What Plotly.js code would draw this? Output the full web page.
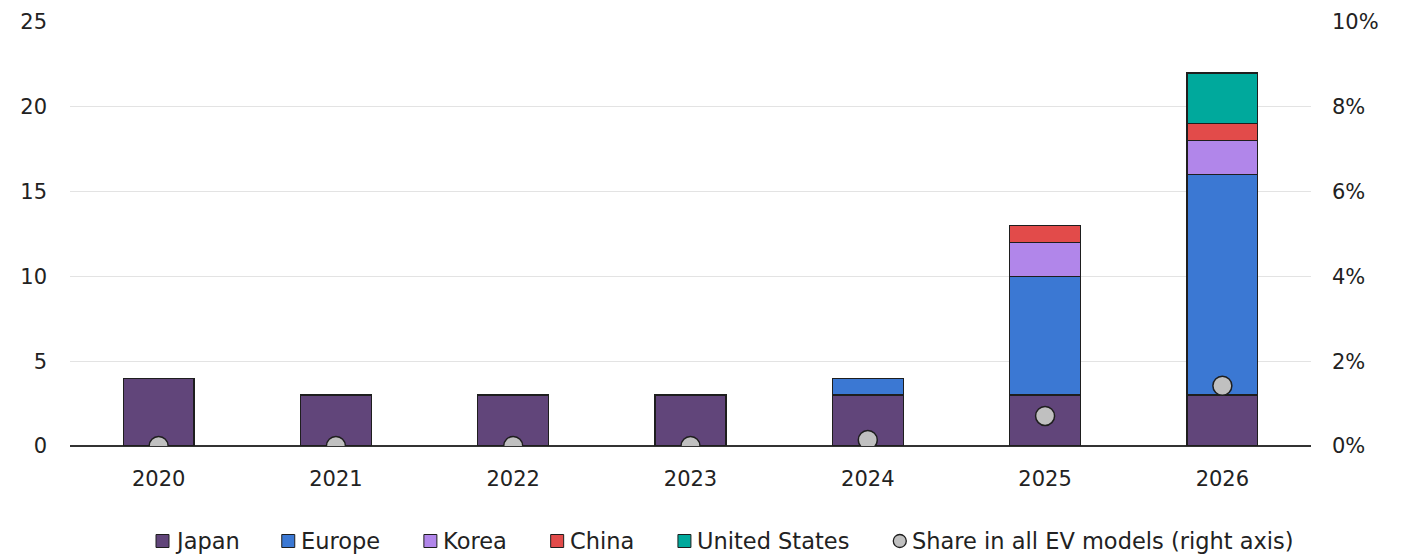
<!DOCTYPE html>
<html>
<head>
<meta charset="utf-8">
<script src="https://cdn.plot.ly/plotly-3.0.1.min.js"></script>
<style>html,body{margin:0;padding:0;background:#fff;}#chart{width:1411px;height:554px;}</style>
</head>
<body>
<div id="chart"></div>
<script>
const years = ['2020','2021','2022','2023','2024','2025','2026'];
const japan = [4, 3, 3, 3, 3, 3, 3];
const europe = [0, 0, 0, 0, 1, 7, 13];
const korea = [0, 0, 0, 0, 0, 2, 2];
const china = [0, 0, 0, 0, 0, 1, 1];
const unitedStates = [0, 0, 0, 0, 0, 0, 3];
const share = [0, 0, 0, 0, 0.0014, 0.0071, 0.0142];
const seriesNames = ['Japan', 'Europe', 'Korea', 'China', 'United States', 'Share in all EV models (right axis)'];

const colors = ['#61457a', '#3b78d3', '#b186ea', '#e24b4a', '#00a99c', '#c0c0c0'];
const edge = '#1e1e1e';
const barSeries = [japan, europe, korea, china, unitedStates];

const traces = barSeries.map((vals, i) => ({
  type: 'bar', name: seriesNames[i], x: years, y: vals, width: 0.4,
  marker: {color: colors[i], line: {color: edge, width: 1.3}}
}));
traces.push({type: 'scatter', mode: 'markers', name: seriesNames[5],
  x: years, y: share, yaxis: 'y2',
  marker: {size: 19, color: colors[5], line: {color: edge, width: 1.5}}});

// Plot geometry (pixels) used to place a hand-built legend row
const W = 1411, H = 554, M = {l: 70, r: 100, t: 22, b: 108};
const plotW = W - M.l - M.r, plotH = H - M.t - M.b;
const toPX = px => (px - M.l) / plotW;
const toPY = py => (H - M.b - py) / plotH;

const legFont = {family: 'DejaVu Sans, sans-serif', size: 22.5, color: '#222222'};
const ctx = document.createElement('canvas').getContext('2d');
ctx.font = legFont.size + 'px "DejaVu Sans"';
const shapes = [], annotations = [];
let cx = 156;            // left edge of first legend symbol
const cy = 541;          // legend row centre
const sym = 13, symGap = 5, itemGap = 45;
seriesNames.forEach((name, i) => {
  shapes.push({type: i < 5 ? 'rect' : 'circle', xref: 'paper', yref: 'paper',
    x0: toPX(cx), x1: toPX(cx + sym), y0: toPY(cy + sym / 2), y1: toPY(cy - sym / 2),
    fillcolor: colors[i], line: {color: edge, width: i < 5 ? 1 : 1.3}});
  const tx = cx + sym + symGap;
  annotations.push({xref: 'paper', yref: 'paper', x: toPX(tx), y: toPY(cy),
    xanchor: 'left', yanchor: 'middle', text: name, showarrow: false,
    font: legFont, borderpad: 0});
  cx = tx + ctx.measureText(name).width + itemGap;
});

const tickFont = {family: 'DejaVu Sans, sans-serif', size: 21, color: '#222222'};
const layout = {
  width: W, height: H, margin: M,
  barmode: 'stack',
  paper_bgcolor: '#ffffff', plot_bgcolor: '#ffffff',
  font: {family: 'DejaVu Sans, sans-serif', size: 21, color: '#222222'},
  showlegend: false,
  shapes: shapes, annotations: annotations,
  xaxis: {type: 'category', range: [-0.5, 6.5], showgrid: false, ticks: '', showline: false,
    zeroline: false, tickfont: tickFont, ticklabelstandoff: 18},
  yaxis: {range: [0, 25], dtick: 5, showgrid: true, gridcolor: '#e3e3e3', gridwidth: 1,
    zeroline: true, zerolinecolor: '#333333', zerolinewidth: 2, ticks: '',
    tickfont: tickFont, showline: false, ticklabelstandoff: 22},
  yaxis2: {overlaying: 'y', side: 'right', range: [0, 0.1], dtick: 0.02, tickformat: '.0%',
    showgrid: false, zeroline: false, showline: false, tickfont: tickFont, ticklabelstandoff: 20}
};
Plotly.newPlot('chart', traces, layout, {displayModeBar: false, staticPlot: true});
</script>
</body>
</html>
